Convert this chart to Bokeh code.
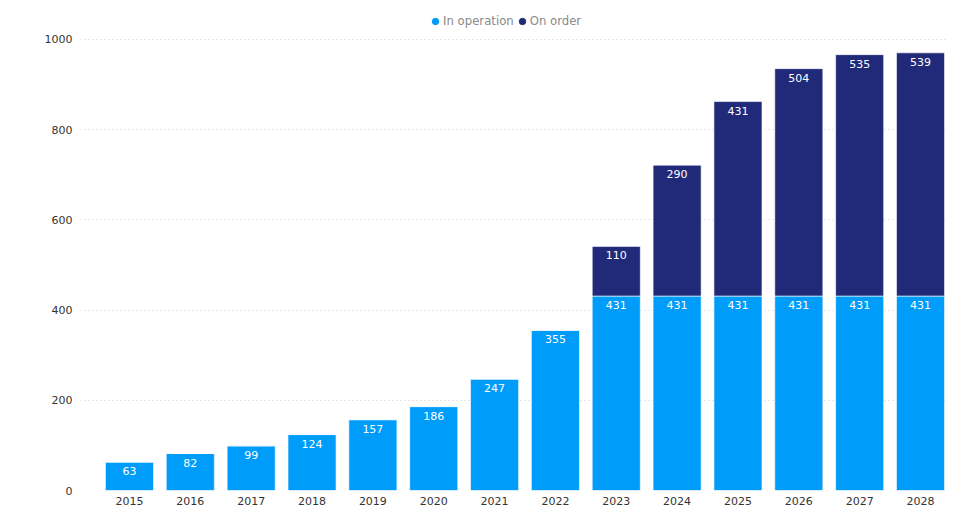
from bokeh.plotting import figure
from bokeh.models import ColumnDataSource, Legend, LegendItem, FixedTicker, Range1d, LabelSet
from bokeh.core.properties import value
from bokeh.embed import file_html
from bokeh.resources import INLINE

years = [2015, 2016, 2017, 2018, 2019, 2020, 2021, 2022, 2023, 2024, 2025, 2026, 2027, 2028]
in_operation = [63, 82, 99, 124, 157, 186, 247, 355, 431, 431, 431, 431, 431, 431]
on_order = [0, 0, 0, 0, 0, 0, 0, 0, 110, 290, 431, 504, 535, 539]
y_ticks = [0, 200, 400, 600, 800, 1000]

LIGHT = "#009cfa"
DARK = "#202a78"
FONT = "DejaVu Sans"

totals = [a + b for a, b in zip(in_operation, on_order)]
src = ColumnDataSource(dict(
    year=years, op=in_operation, order=on_order, total=totals,
    op_lbl=[str(v) for v in in_operation],
))
ord_years = [y for y, o in zip(years, on_order) if o > 0]
ord_src = ColumnDataSource(dict(
    year=ord_years,
    total=[t for t, o in zip(totals, on_order) if o > 0],
    lbl=[str(o) for o in on_order if o > 0],
))

p = figure(width=960, height=507, output_backend="svg", toolbar_location=None,
           x_range=Range1d(2014.195, 2028.46), y_range=Range1d(0, 1086),
           min_border_left=80, min_border_right=12, min_border_top=0, min_border_bottom=16)
p.outline_line_color = None
p.background_fill_color = "white"
p.border_fill_color = "white"

bw = 0.79
p.vbar(x="year", bottom=0, top="op", width=bw, source=src, fill_color=LIGHT,
       line_color="white", line_alpha=0.6, line_width=1)
p.vbar(x="year", bottom="op", top="total", width=bw, source=src, fill_color=DARK,
       line_color="white", line_alpha=0.6, line_width=1)

p.add_layout(LabelSet(x="year", y="op", text="op_lbl", source=src, text_align="center",
                      text_baseline="top", y_offset=-5, text_color="white",
                      text_font=value(FONT), text_font_size="11px"))
p.add_layout(LabelSet(x="year", y="total", text="lbl", source=ord_src, text_align="center",
                      text_baseline="top", y_offset=-5, text_color="white",
                      text_font=value(FONT), text_font_size="11px"))

# legend proxies
nan = float("nan")
r1 = p.scatter(x=[nan], y=[nan], marker="circle", size=7, fill_color=LIGHT, line_color=LIGHT)
r2 = p.scatter(x=[nan], y=[nan], marker="circle", size=7, fill_color=DARK, line_color=DARK)
legend = Legend(items=[LegendItem(label="In operation", renderers=[r1]),
                       LegendItem(label="On order", renderers=[r2])],
                orientation="horizontal", location=(347, 461),
                padding=0, margin=0, spacing=0, label_standoff=0,
                glyph_width=16, glyph_height=16, label_height=16,
                label_text_font=FONT, label_text_font_size="11.7px",
                label_text_color="#8a8a8a", border_line_color=None,
                background_fill_alpha=0)
p.add_layout(legend, "center")

p.xaxis.ticker = FixedTicker(ticks=years)
p.xaxis.axis_line_color = None
p.xaxis.major_tick_line_color = None
p.xaxis.minor_tick_line_color = None
p.xaxis.major_label_text_font = FONT
p.xaxis.major_label_text_font_size = "11px"
p.xaxis.major_label_text_color = "#333333"
p.xaxis.major_label_standoff = 0

p.yaxis.ticker = FixedTicker(ticks=y_ticks)
p.yaxis.axis_line_color = None
p.yaxis.major_tick_line_color = None
p.yaxis.minor_tick_line_color = None
p.yaxis.major_label_text_font = FONT
p.yaxis.major_label_text_font_size = "11px"
p.yaxis.major_label_text_color = "#333333"
p.yaxis.major_label_standoff = 2

p.xgrid.grid_line_color = None
p.ygrid.ticker = FixedTicker(ticks=y_ticks)
p.ygrid.grid_line_color = "#cccccc"
p.ygrid.grid_line_dash = "1 3"
p.ygrid.grid_line_width = 1

open("out.html", "w").write(file_html(p, INLINE))
